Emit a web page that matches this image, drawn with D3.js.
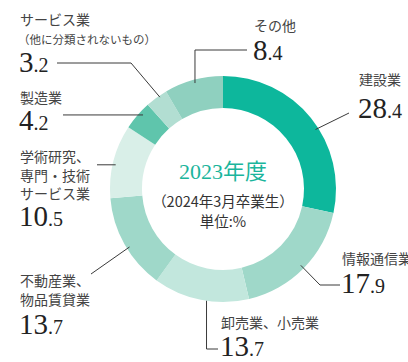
<!DOCTYPE html>
<html lang="ja">
<head>
<meta charset="utf-8">
<script src="https://cdn.jsdelivr.net/npm/d3@7"></script>
<style>
  html, body { margin: 0; padding: 0; background: #fff; }
  svg { display: block; }
  .cat { font-family: "Noto Sans CJK JP", "Noto Sans", sans-serif; fill: #444; }
  .val { font-family: "Liberation Serif", "DejaVu Serif", serif; fill: #222; }
</style>
</head>
<body>
<svg id="chart" width="408" height="362"></svg>
<script>
// 業種別就職者の割合（%）
const categories = [
  "建設業",
  "情報通信業",
  "卸売業、小売業",
  "不動産業、物品賃貸業",
  "学術研究、専門・技術サービス業",
  "製造業",
  "サービス業（他に分類されないもの）",
  "その他"
];
const values = [28.4, 17.9, 13.7, 13.7, 10.5, 4.2, 3.2, 8.4];
// 表示用の行分け
const labelLines = [
  ["建設業"],
  ["情報通信業"],
  ["卸売業、小売業"],
  ["不動産業、", "物品賃貸業"],
  ["学術研究、", "専門・技術", "サービス業"],
  ["製造業"],
  ["サービス業"],
  ["その他"]
];
const subLabels = ["", "", "", "", "", "", "（他に分類されないもの）", ""];
const colors = ["#0db79c", "#9fd8c9", "#c2e7dd", "#9fd8c9", "#d9efe8", "#5fc5ac", "#b2ded2", "#8fd0bf"];

const title = "2023年度";
const subtitle = "（2024年3月卒業生）";
const unitText = "単位:%";

const svg = d3.select("#chart");
const cx = 223, cy = 189;
const rOuter = 113, rInner = 81;

const g = svg.append("g").attr("transform", `translate(${cx},${cy})`);

const pie = d3.pie().sort(null).value(d => d).startAngle(0).endAngle(2 * Math.PI);
const arcs = pie(values);
const arc = d3.arc().innerRadius(rInner).outerRadius(rOuter);

g.selectAll("path.seg")
  .data(arcs)
  .join("path")
  .attr("class", "seg")
  .attr("d", arc)
  .attr("fill", (d, i) => colors[i]);

// 中央のテキスト
g.append("text")
  .attr("text-anchor", "middle")
  .attr("y", -10)
  .attr("fill", "#1bb59c")
  .style("font-family", "'Liberation Serif', 'Noto Sans CJK JP', serif")
  .style("font-size", "22px")
  .text(title);
g.append("text")
  .attr("class", "cat")
  .attr("text-anchor", "middle")
  .attr("y", 18)
  .style("font-size", "14.5px")
  .style("fill", "#333")
  .text(subtitle);
g.append("text")
  .attr("class", "cat")
  .attr("text-anchor", "middle")
  .attr("y", 38)
  .style("font-size", "14.5px")
  .style("fill", "#333")
  .text(unitText);

// ラベル配置: t = 区間内の位置, r = 引き出し線の起点半径, pts = 折れ点, tx/ty = 文字位置
const layout = [
  { t: 0.56, r: 110, pts: [[349, 113]], tx: 359, ty: 85, vy: 118 },
  { t: 0.50, r: 109, pts: [[320, 285], [340, 285]], tx: 342, ty: 264, vy: 293 },
  { t: 0.44, r: 113, pts: "vertical", end: [207, 349], tail: 218, tx: 221, ty: 328, vy: 356 },
  { t: 0.45, r: 110, pts: [[91, 274]], tx: 20, ty: 286, vy: 334 },
  { t: 0.46, r: 110, pts: "horizontal", endX: 97, tx: 20, ty: 162, vy: 226 },
  { t: 0.64, r: 109, pts: "horizontal", endX: 63, tx: 20, ty: 103, vy: 130 },
  { t: 0.63, r: 111.5, pts: [[131, 63], [57, 63]], tx: 20, ty: 25, vy: 72 },
  { t: 0.51, r: 109.6, pts: "vertical", endY: 50, tailX: 247, tx: 254, ty: 31, vy: 60 }
];

function ringPoint(a, t, r) {
  const ang = a.startAngle + (a.endAngle - a.startAngle) * t;
  return [cx + r * Math.sin(ang), cy - r * Math.cos(ang)];
}

const line = d3.line();
arcs.forEach((a, i) => {
  const L = layout[i];
  const p0 = ringPoint(a, L.t, L.r);
  let pts;
  if (L.pts === "horizontal") {
    pts = [p0, [L.endX, p0[1]]];
  } else if (L.pts === "vertical") {
    if (L.end) {
      pts = [[p0[0], p0[1]], [p0[0], L.end[1]], [L.tail, L.end[1]]];
    } else {
      pts = [[p0[0], p0[1]], [p0[0], L.endY], [L.tailX, L.endY]];
    }
  } else {
    pts = [p0, ...L.pts];
  }
  svg.append("path")
    .attr("d", line(pts))
    .attr("fill", "none")
    .attr("stroke", "#3a3a3a")
    .attr("stroke-width", 1);

  const lines = labelLines[i];
  const step = lines.length > 1 ? 18.5 : 0;
  lines.forEach((s, k) => {
    svg.append("text")
      .attr("class", "cat")
      .attr("x", L.tx)
      .attr("y", L.ty + k * step)
      .style("font-size", "14px")
      .text(s);
  });
  if (subLabels[i]) {
    svg.append("text")
      .attr("class", "cat")
      .attr("x", L.tx - 2)
      .attr("y", L.ty + 19)
      .style("font-size", "11.5px")
      .text(subLabels[i]);
  }

  const parts = values[i].toFixed(1).split(".");
  const vt = svg.append("text")
    .attr("class", "val")
    .attr("x", L.tx - 1)
    .attr("y", L.vy);
  vt.append("tspan").style("font-size", "29px").text(parts[0]);
  vt.append("tspan").style("font-size", "20px").text("." + parts[1]);
});
</script>
</body>
</html>
